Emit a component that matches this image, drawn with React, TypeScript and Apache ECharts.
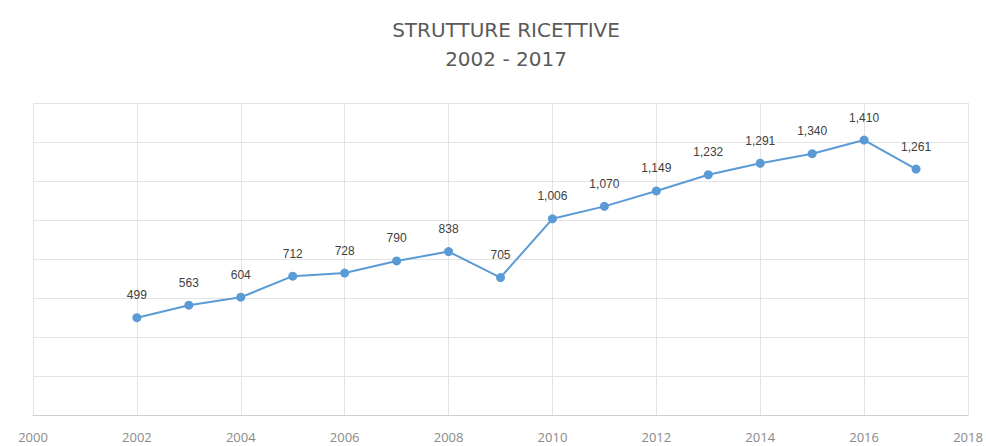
import React, { useEffect, useRef } from "react";
import * as echarts from "echarts";

const years = [2002, 2003, 2004, 2005, 2006, 2007, 2008, 2009, 2010, 2011, 2012, 2013, 2014, 2015, 2016, 2017];
const values = [499, 563, 604, 712, 728, 790, 838, 705, 1006, 1070, 1149, 1232, 1291, 1340, 1410, 1261];
const titleLines = ["STRUTTURE RICETTIVE", "2002 - 2017"];

export default function App() {
  const ref = useRef<HTMLDivElement>(null);
  useEffect(() => {
    if (!ref.current) return;
    const chart = echarts.init(ref.current, undefined, { renderer: "svg" });
    chart.setOption({
      animation: false,
      backgroundColor: "#ffffff",
      title: {
        text: titleLines.join("\n"),
        left: 501,
        textAlign: "center",
        top: 10,
        textStyle: {
          fontFamily: "DejaVu Sans",
          fontWeight: "normal",
          fontSize: 20,
          color: "#5a5a5a",
          lineHeight: 29,
        },
      },
      grid: { left: 33, right: 18, top: 103, bottom: 31, containLabel: false },
      xAxis: {
        type: "value",
        min: 2000,
        max: 2018,
        interval: 2,
        axisLine: { show: true, lineStyle: { color: "#d0d0d0" } },
        axisTick: { show: false },
        splitLine: { show: true, lineStyle: { color: "#e3e3e3" } },
        axisLabel: {
          color: "#8a8a8a",
          fontSize: 13,
          fontFamily: "Open Sans",
          margin: 15,
          formatter: (v: number) => String(v),
        },
      },
      yAxis: {
        type: "value",
        min: 0,
        max: 1600,
        interval: 200,
        axisLine: { show: false },
        axisTick: { show: false },
        axisLabel: { show: false },
        splitLine: { show: true, lineStyle: { color: "#e3e3e3" } },
      },
      series: [
        {
          type: "line",
          data: years.map((y, i) => [y, values[i]]),
          symbol: "circle",
          symbolSize: 9,
          lineStyle: { color: "#5b9bd5", width: 2 },
          itemStyle: { color: "#5b9bd5" },
          label: {
            show: true,
            position: "top",
            distance: 12,
            color: "#404040",
            fontSize: 12,
            fontFamily: "Liberation Sans",
            formatter: (p: any) => Number(p.value[1]).toLocaleString("en-US"),
          },
        },
      ],
    });
    return () => chart.dispose();
  }, []);
  return <div ref={ref} style={{ position: "fixed", left: 0, top: 0, width: 986, height: 446 }} />;
}
